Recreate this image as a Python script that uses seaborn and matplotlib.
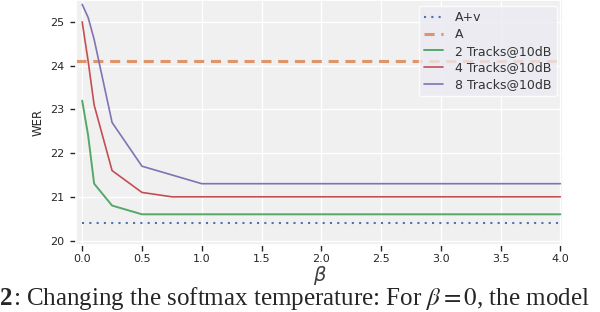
import numpy as np
import pandas as pd
import seaborn as sns
import matplotlib.pyplot as plt

beta = [0.0, 0.05, 0.1, 0.25, 0.5, 0.75, 1.0, 1.5, 2.0, 2.5, 3.0, 3.5, 4.0]
wer_av = [20.4] * len(beta)
wer_a = 24.1
wer_2 = [23.2, 22.4, 21.3, 20.8, 20.6, 20.6, 20.6, 20.6, 20.6, 20.6, 20.6, 20.6, 20.6]
wer_4 = [25.0, 24.1, 23.1, 21.6, 21.1, 21.0, 21.0, 21.0, 21.0, 21.0, 21.0, 21.0, 21.0]
wer_8 = [25.4, 25.1, 24.6, 22.7, 21.7, 21.5, 21.3, 21.3, 21.3, 21.3, 21.3, 21.3, 21.3]

sns.set_theme(style="darkgrid", rc={
    "axes.facecolor": "#f0f0f0",
    "xtick.bottom": True, "ytick.left": True,
    "xtick.major.size": 4.5, "ytick.major.size": 4.5,
    "xtick.major.width": 1, "ytick.major.width": 1,
    "xtick.color": "#262626", "ytick.color": "#262626",
})
plt.rcParams['font.family'] = ['DejaVu Sans']
pal = sns.color_palette("deep")

fig = plt.figure(figsize=(6, 3.12), dpi=100)
ax = fig.add_axes([0.127, 0.215, 0.811, 0.785])

sns.lineplot(x=beta, y=wer_av, ax=ax, color=pal[0], linestyle=(0, (1, 2.5)), lw=1.5, label="A+v")
ax.axhline(wer_a, color=pal[1], alpha=0.85, linestyle=(0, (3.3, 2.2)), lw=2.2, label="A")
sns.lineplot(x=beta, y=wer_2, ax=ax, color=pal[2], lw=1.4, label="2 Tracks@10dB")
sns.lineplot(x=beta, y=wer_4, ax=ax, color=pal[3], lw=1.2, label="4 Tracks@10dB")
sns.lineplot(x=beta, y=wer_8, ax=ax, color=pal[4], lw=1.2, label="8 Tracks@10dB")

ax.set_xlim(-0.05, 4.02)
ax.set_ylim(19.9, 25.5)
ax.set_xticks(np.arange(0, 4.01, 0.5))
ax.set_yticks([20, 21, 22, 23, 24, 25])
ax.tick_params(axis="y", labelsize=8, pad=4)
ax.tick_params(axis="x", labelsize=8, pad=2)
ax.set_ylabel("WER", fontsize=8.5)
ax.set_xlabel(r"$\beta$", fontsize=14, labelpad=0, color="#404040")

leg = ax.legend(loc="upper right", fontsize=9, frameon=True, handlelength=1.5,
                handletextpad=1.0, borderaxespad=0.5, labelspacing=0.3,
                borderpad=0.4)
leg.get_frame().set_facecolor("#eaeaf2")
leg.get_frame().set_edgecolor("white")
for t in leg.get_texts():
    t.set_color("#333333")

fig.text(0.0, 0.022, "2", fontsize=18, fontweight="bold", family="Liberation Serif", va="baseline")
fig.text(0.021, 0.022, r": Changing the softmax temperature: For $\beta=0$, the model",
         fontsize=18, family="Liberation Serif", va="baseline", math_fontfamily="stix")

fig.savefig("out.png", dpi=100)
